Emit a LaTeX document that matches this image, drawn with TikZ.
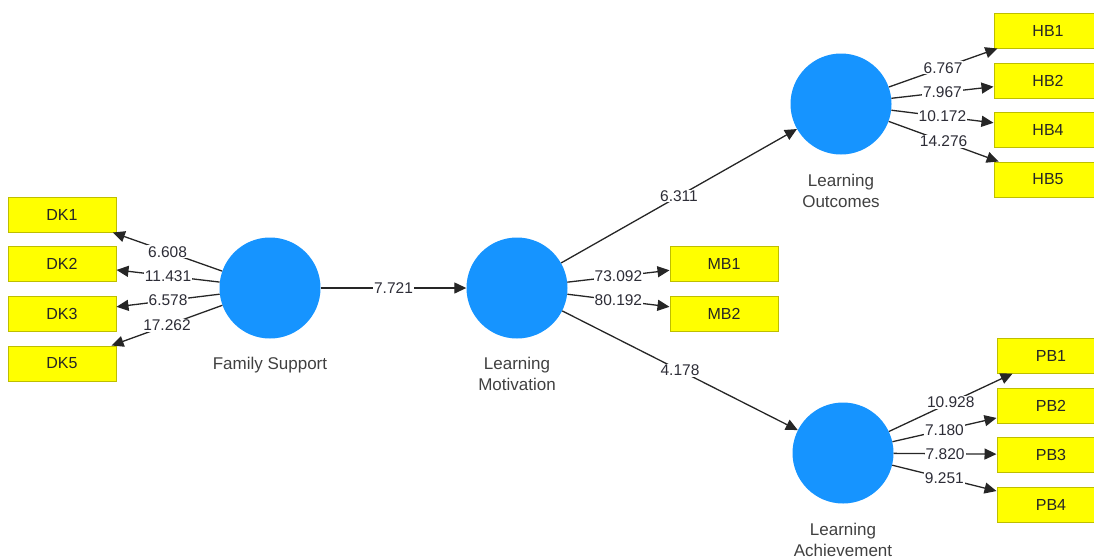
\documentclass[tikz,border=0pt]{standalone}
\usepackage{fontspec}
\setmainfont{Liberation Sans}
\usetikzlibrary{arrows.meta}
\definecolor{lvblue}{RGB}{22,148,255}
\definecolor{indyellow}{RGB}{255,255,0}
\definecolor{indborder}{RGB}{190,190,0}
\definecolor{wtext}{RGB}{45,45,55}
\begin{document}
\begin{tikzpicture}[x=1pt,y=-1pt,
  latent/.style={circle, fill=lvblue, minimum size=101pt, inner sep=0pt},
  indicator/.style={draw=indborder, fill=indyellow, line width=1pt,
    minimum width=108pt, minimum height=35pt, inner sep=0pt,
    font=\fontsize{16}{18}\selectfont, text=black!85},
  link/.style={draw=black!85, line width=1.3pt, -{Triangle[length=12pt,width=11pt]}},
  weight/.style={fill=white, inner sep=1pt, midway,
    font=\fontsize{15.5}{18}\selectfont, text=wtext},
  lvname/.style={anchor=north, inner sep=0pt, align=center,
    font=\fontsize{17}{21}\selectfont, text=black!75}
]
\useasboundingbox (0,0) rectangle (1094,558);

% latent variables
\node[latent] (fs) at (270,288) {};
\node[latent] (lm) at (517,288) {};
\node[latent] (lo) at (841,104) {};
\node[latent] (la) at (843,453) {};

\node[lvname] (fsname) at (270,357) {Family Support};
\node[lvname] (lmname) at (517,357) {Learning\\Motivation};
\node[lvname] (loname) at (841,174) {Learning\\Outcomes};
\node[lvname] (laname) at (843,523) {Learning\\Achievement};

% indicators
\node[indicator] (dk1) at (62,214.5) {DK1};
\node[indicator] (dk2) at (62,263.5) {DK2};
\node[indicator] (dk3) at (62,313.5) {DK3};
\node[indicator] (dk5) at (62,363.5) {DK5};

\node[indicator] (mb1) at (724,264) {MB1};
\node[indicator] (mb2) at (724,313.5) {MB2};

\node[indicator] (hb1) at (1048,30.5) {HB1};
\node[indicator] (hb2) at (1048,80.5) {HB2};
\node[indicator] (hb4) at (1048,129.5) {HB4};
\node[indicator] (hb5) at (1048,179.5) {HB5};

\node[indicator] (pb1) at (1051,355.5) {PB1};
\node[indicator] (pb2) at (1051,405.5) {PB2};
\node[indicator] (pb3) at (1051,454.5) {PB3};
\node[indicator] (pb4) at (1051,504.5) {PB4};

% outer model
\draw[link] (fs) -- node[weight] {6.608} (dk1);
\draw[link] (fs) -- node[weight] {11.431} (dk2);
\draw[link] (fs) -- node[weight] {6.578} (dk3);
\draw[link] (fs) -- node[weight] {17.262} (dk5);

\draw[link] (lm) -- node[weight] {73.092} (mb1);
\draw[link] (lm) -- node[weight] {80.192} (mb2);

\draw[link] (lo) -- node[weight] {6.767} (hb1);
\draw[link] (lo) -- node[weight] {7.967} (hb2);
\draw[link] (lo) -- node[weight] {10.172} (hb4);
\draw[link] (lo) -- node[weight] {14.276} (hb5);

\draw[link] (la) -- node[weight] {10.928} (pb1);
\draw[link] (la) -- node[weight] {7.180} (pb2);
\draw[link] (la) -- node[weight] {7.820} (pb3);
\draw[link] (la) -- node[weight] {9.251} (pb4);

% inner model
\draw[link] (fs) -- node[weight] {7.721} (lm);
\draw[link] (lm) -- node[weight] {6.311} (lo);
\draw[link] (lm) -- node[weight] {4.178} (la);
\end{tikzpicture}
\end{document}
